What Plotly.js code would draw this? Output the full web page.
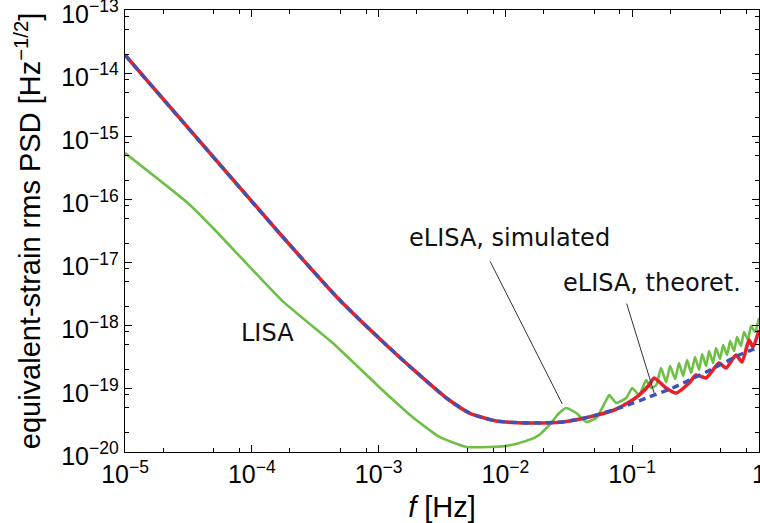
<!DOCTYPE html>
<html>
<head>
<meta charset="utf-8">
<script src="https://cdn.plot.ly/plotly-3.0.1.min.js"></script>
<style>
  html, body { margin: 0; padding: 0; background: #fff; }
  #chart { width: 760px; height: 523px; }
</style>
</head>
<body>
<div id="chart"></div>
<script>
// ---- Data ----
// LISA (green)
const freqLisa = [1e-5, 3.13e-5, 5.12e-5, 1.75e-4, 4.35e-4, 1.07e-3, 1.85e-3, 3.02e-3, 4.93e-3, 7.48e-3,
  9.82e-3, 1.29e-2, 1.75e-2, 2.22e-2, 2.66e-2, 3.02e-2, 3.62e-2, 4.35e-2, 5.21e-2, 6.24e-2,
  6.59e-2, 7.48e-2, 8.97e-2, 0.100, 0.1135, 0.129, 0.141,
  0.1545, 0.169, 0.185, 0.199, 0.218, 0.234, 0.252, 0.271, 0.292, 0.313, 0.337, 0.356, 0.383, 0.404,
  0.435, 0.458, 0.493, 0.521, 0.560, 0.592, 0.636, 0.671, 0.721, 0.762, 0.819, 0.865, 0.931, 1.0];
const psdLisa = [5.43e-16, 8.77e-17, 3.28e-17, 2.45e-18, 5.32e-19, 9.59e-20, 3.58e-20, 1.73e-20, 1.20e-20, 1.20e-20,
  1.24e-20, 1.39e-20, 1.73e-20, 2.67e-20, 4.14e-20, 4.97e-20, 4.14e-20, 2.99e-20, 3.45e-20, 6.65e-20,
  7.98e-20, 5.97e-20, 7.16e-20, 1.03e-19, 7.98e-20, 1.38e-19, 1.03e-19,
  1.15e-19, 2.14e-19, 1.28e-19, 2.30e-19, 1.43e-19, 2.57e-19, 1.60e-19, 2.86e-19, 1.78e-19, 3.19e-19,
  1.99e-19, 3.56e-19, 2.30e-19, 3.97e-19, 2.57e-19, 4.43e-19, 2.97e-19, 4.94e-19, 3.44e-19, 5.73e-19,
  3.97e-19, 6.62e-19, 4.77e-19, 7.94e-19, 5.94e-19, 9.89e-19, 7.94e-19, 1.32e-18];

// eLISA, simulated (red)
const freqSim = [1e-5, 1.57e-4, 4.93e-4, 1.22e-3, 2.10e-3, 3.43e-3, 5.21e-3, 8.49e-3, 1.55e-2, 2.81e-2,
  4.58e-2, 0.0721, 0.0946, 0.1135, 0.136, 0.149, 0.185, 0.222, 0.281, 0.319, 0.383, 0.484, 0.550,
  0.659, 0.735, 0.834, 0.897, 1.0];
const psdSim = [1.94e-14, 3.28e-17, 2.55e-18, 4.43e-19, 1.66e-19, 7.16e-20, 4.14e-20, 3.10e-20, 2.88e-20, 2.99e-20,
  3.58e-20, 4.62e-20, 6.19e-20, 7.98e-20, 1.15e-19, 1.49e-19, 1.03e-19, 8.59e-20, 1.24e-19, 1.66e-19,
  1.49e-19, 2.56e-19, 2.14e-19, 3.44e-19, 2.66e-19, 5.93e-19, 4.60e-19, 8.55e-19];

// eLISA, theoretical (blue dashed)
const freqTheory = [1e-5, 1.57e-4, 4.93e-4, 1.22e-3, 2.10e-3, 3.43e-3, 5.21e-3, 8.49e-3, 1.55e-2, 2.81e-2,
  4.58e-2, 8.34e-2, 0.136, 0.207, 0.383, 0.697, 1.0];
const psdTheory = [1.94e-14, 3.28e-17, 2.55e-18, 4.43e-19, 1.66e-19, 7.16e-20, 4.14e-20, 3.10e-20, 2.88e-20, 2.99e-20,
  3.58e-20, 5.15e-20, 7.43e-20, 1.03e-19, 1.85e-19, 3.44e-19, 4.60e-19];

// Tick labels
const xTickVals = [1e-5, 1e-4, 1e-3, 1e-2, 1e-1, 1];
const xTickText = ['10<sup>\u22125</sup>', '10<sup>\u22124</sup>', '10<sup>\u22123</sup>', '10<sup>\u22122</sup>', '10<sup>\u22121</sup>', '1'];
const yTickVals = [1e-20, 1e-19, 1e-18, 1e-17, 1e-16, 1e-15, 1e-14, 1e-13];
const yTickText = ['10<sup>\u221220</sup>', '10<sup>\u221219</sup>', '10<sup>\u221218</sup>', '10<sup>\u221217</sup>',
  '10<sup>\u221216</sup>', '10<sup>\u221215</sup>', '10<sup>\u221214</sup>', '10<sup>\u221213</sup>'];
const minorMantissas = [2, 5, 8];
const xDecades = [-5, -4, -3, -2, -1];
const yDecades = [-20, -19, -18, -17, -16, -15, -14];

// Labels and pointer lines (frequency, PSD)
const labelTexts = ['LISA', 'eLISA, simulated', 'eLISA, theoret.'];
const labelFreq = [1.34e-4, 1.07e-2, 0.1426];
const labelPsd = [7.66e-19, 2.45e-17, 4.74e-18];
const pointerFromFreq = [7.48e-3, 0.0897];
const pointerFromPsd = [1.10e-17, 2.37e-18];
const pointerToFreq = [0.0281, 0.149];
const pointerToPsd = [5.75e-20, 8.59e-20];

// ---- Build ----
const minorX = [];
xDecades.forEach(d => minorMantissas.forEach(m => minorX.push(m * Math.pow(10, d))));
const minorY = [];
yDecades.forEach(d => minorMantissas.forEach(m => minorY.push(m * Math.pow(10, d))));

const traces = [
  { x: freqLisa, y: psdLisa, type: 'scatter', mode: 'lines',
    line: { color: '#6dbf45', width: 2.6, shape: 'spline', smoothing: 0.45 }, hoverinfo: 'skip' },
  { x: freqSim, y: psdSim, type: 'scatter', mode: 'lines',
    line: { color: '#e8202a', width: 3.6, shape: 'spline', smoothing: 0.6 }, hoverinfo: 'skip' },
  { x: freqTheory, y: psdTheory, type: 'scatter', mode: 'lines',
    line: { color: '#3d52b2', width: 3.4, dash: '7px,5px', shape: 'spline', smoothing: 0.6 }, hoverinfo: 'skip' }
];

const tickFont = { family: 'Liberation Sans, Arial, Helvetica, sans-serif', size: 25, color: '#000' };
const titleFont = { family: 'Liberation Sans, Arial, Helvetica, sans-serif', size: 29, color: '#000' };
const annFont = { family: 'DejaVu Sans, sans-serif', size: 24, color: '#111' };

const annotations = [];
labelTexts.forEach((t, i) => {
  annotations.push({ text: t, x: Math.log10(labelFreq[i]), y: Math.log10(labelPsd[i]),
    xref: 'x', yref: 'y', showarrow: false, font: annFont, xanchor: 'center', yanchor: 'middle' });
});
pointerToFreq.forEach((f, i) => {
  annotations.push({ text: '', x: Math.log10(f), y: Math.log10(pointerToPsd[i]),
    ax: Math.log10(pointerFromFreq[i]), ay: Math.log10(pointerFromPsd[i]),
    xref: 'x', yref: 'y', axref: 'x', ayref: 'y', showarrow: true, arrowhead: 0,
    arrowwidth: 1, arrowcolor: '#333' });
});

const axisCommon = {
  type: 'log', showgrid: false, zeroline: false,
  showline: true, linecolor: '#000', linewidth: 1.3, mirror: 'ticks',
  ticks: 'inside', ticklen: 7, tickwidth: 1.1, tickcolor: '#000',
  tickmode: 'array', tickfont: tickFont, ticklabeloverflow: 'allow'
};

const layout = {
  width: 760, height: 523,
  margin: { l: 125, r: 1, t: 10, b: 71 },
  paper_bgcolor: '#fff', plot_bgcolor: '#fff',
  showlegend: false,
  xaxis: Object.assign({}, axisCommon, {
    range: [-5, 0], tickvals: xTickVals, ticktext: xTickText,
    minor: { tickmode: 'array', tickvals: minorX, ticks: 'inside', ticklen: 4, tickwidth: 1, tickcolor: '#000', showgrid: false },
    title: { text: '<i>f</i> [Hz]', font: titleFont, standoff: 14 }
  }),
  yaxis: Object.assign({}, axisCommon, {
    range: [-20, -13], tickvals: yTickVals, ticktext: yTickText, ticklabelshift: 4,
    minor: { tickmode: 'array', tickvals: minorY, ticks: 'inside', ticklen: 4, tickwidth: 1, tickcolor: '#000', showgrid: false },
    title: { text: 'equivalent-strain rms PSD [Hz<sup>\u22121/2</sup>]', font: titleFont, standoff: 12 }
  }),
  annotations: annotations
};

Plotly.newPlot('chart', traces, layout, { staticPlot: true, displayModeBar: false });
</script>
</body>
</html>
